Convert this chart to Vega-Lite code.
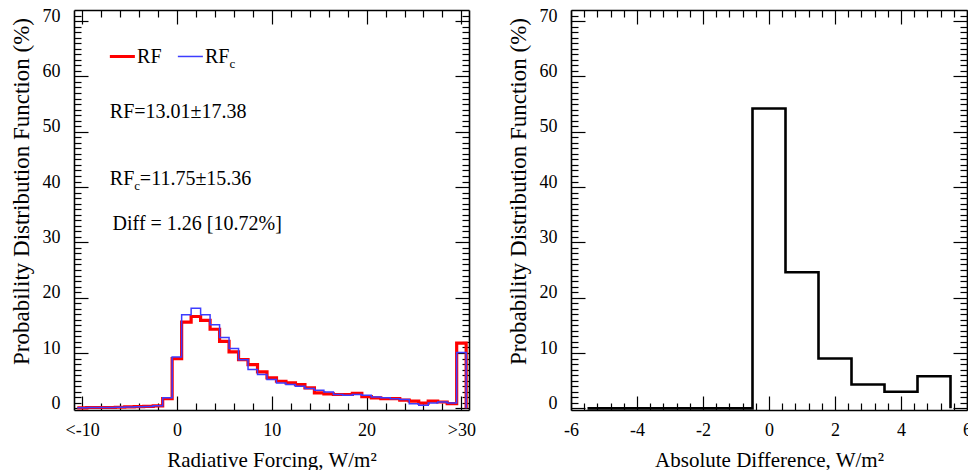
{
  "$schema": "https://vega.github.io/schema/vega-lite/v6.json",
  "background": "white",
  "padding": {"left": 10, "top": 7, "right": 0, "bottom": 0},
  "bounds": "flush",
  "spacing": 102,
  "config": {
    "view": {"stroke": null},
    "text": {"font": "Liberation Serif", "color": "black"},
    "axis": {
      "grid": false,
      "domainColor": "black",
      "domainWidth": 1.6,
      "tickColor": "black",
      "tickWidth": 1.2,
      "labelColor": "black",
      "titleColor": "black",
      "labelFont": "Liberation Serif",
      "titleFont": "Liberation Serif",
      "labelFontSize": 18,
      "titleFontSize": 21,
      "titleFontWeight": "normal",
      "labelFlush": false,
      "labelOverlap": false,
      "labels": false,
      "title": null
    }
  },
  "datasets": {
    "forcing": [
      {"edge": -10.5, "rf": 0.1, "rfc": 0.1},
      {"edge": -9.5, "rf": 0.15, "rfc": 0.15},
      {"edge": -8.5, "rf": 0.15, "rfc": 0.15},
      {"edge": -7.5, "rf": 0.15, "rfc": 0.15},
      {"edge": -6.5, "rf": 0.2, "rfc": 0.2},
      {"edge": -5.5, "rf": 0.25, "rfc": 0.25},
      {"edge": -4.5, "rf": 0.3, "rfc": 0.3},
      {"edge": -3.5, "rf": 0.35, "rfc": 0.35},
      {"edge": -2.5, "rf": 0.45, "rfc": 0.45},
      {"edge": -1.5, "rf": 1.75, "rfc": 1.9},
      {"edge": -0.5, "rf": 9.0, "rfc": 9.3},
      {"edge": 0.5, "rf": 15.6, "rfc": 16.9},
      {"edge": 1.5, "rf": 16.6, "rfc": 18.1},
      {"edge": 2.5, "rf": 15.9, "rfc": 16.9},
      {"edge": 3.5, "rf": 14.3, "rfc": 15.1},
      {"edge": 4.5, "rf": 12.1, "rfc": 12.8},
      {"edge": 5.5, "rf": 10.2, "rfc": 10.8},
      {"edge": 6.5, "rf": 8.8, "rfc": 8.8},
      {"edge": 7.5, "rf": 7.9, "rfc": 7.0},
      {"edge": 8.5, "rf": 6.6, "rfc": 6.1},
      {"edge": 9.5, "rf": 5.5, "rfc": 5.2},
      {"edge": 10.5, "rf": 4.9, "rfc": 4.6},
      {"edge": 11.5, "rf": 4.6, "rfc": 4.3},
      {"edge": 12.5, "rf": 4.3, "rfc": 4.0},
      {"edge": 13.5, "rf": 3.7, "rfc": 3.6},
      {"edge": 14.5, "rf": 2.8, "rfc": 3.25},
      {"edge": 15.5, "rf": 2.6, "rfc": 2.95},
      {"edge": 16.5, "rf": 2.5, "rfc": 2.5},
      {"edge": 17.5, "rf": 2.5, "rfc": 2.35},
      {"edge": 18.5, "rf": 2.7, "rfc": 2.5},
      {"edge": 19.5, "rf": 2.1, "rfc": 2.35},
      {"edge": 20.5, "rf": 1.9, "rfc": 2.05},
      {"edge": 21.5, "rf": 1.75, "rfc": 1.9},
      {"edge": 22.5, "rf": 1.75, "rfc": 1.75},
      {"edge": 23.5, "rf": 1.5, "rfc": 1.6},
      {"edge": 24.5, "rf": 1.3, "rfc": 0.85},
      {"edge": 25.5, "rf": 0.95, "rfc": 0.55},
      {"edge": 26.5, "rf": 1.3, "rfc": 0.95},
      {"edge": 27.5, "rf": 1.15, "rfc": 1.15},
      {"edge": 28.5, "rf": 0.85, "rfc": 0.95},
      {"edge": 29.5, "rf": 11.8, "rfc": 10.1},
      {"edge": 30.5, "rf": 0, "rfc": 0}
    ],
    "difference": [
      {"edge": -5.5, "pdf": 0},
      {"edge": -4.5, "pdf": 0},
      {"edge": -3.5, "pdf": 0},
      {"edge": -2.5, "pdf": 0},
      {"edge": -1.5, "pdf": 0},
      {"edge": -0.5, "pdf": 54.2},
      {"edge": 0.5, "pdf": 24.6},
      {"edge": 1.5, "pdf": 9.0},
      {"edge": 2.5, "pdf": 4.3},
      {"edge": 3.5, "pdf": 3.0},
      {"edge": 4.5, "pdf": 5.8},
      {"edge": 5.5, "pdf": 0}
    ],
    "single": [{}]
  },
  "hconcat": [
    {
      "width": 395,
      "height": 400,
      "resolve": {"axis": {"x": "independent", "y": "independent"}},
      "layer": [
        {
          "data": {"name": "forcing"},
          "mark": {"type": "line", "interpolate": "step-after", "color": "#ff0000", "strokeWidth": 3.2},
          "encoding": {
            "x": {
              "field": "edge", "type": "quantitative",
              "scale": {"domain": [-10.85, 30.8], "nice": false, "zero": false},
              "axis": {
                "orient": "bottom", "values": [-10, 0, 10, 20, 30], "ticks": false, "labels": true,
                "labelExpr": "datum.value == -10 ? '<-10' : datum.value == 30 ? '>30' : toString(datum.value)",
                "labelPadding": 11, "title": "Radiative Forcing, W/m²", "titlePadding": 10
              }
            },
            "y": {
              "field": "rf", "type": "quantitative",
              "scale": {"domain": [-0.3, 72], "nice": false, "zero": false},
              "axis": {
                "orient": "left", "values": [0, 10, 20, 30, 40, 50, 60, 70], "ticks": false, "labels": true,
                "labelExpr": "toString(datum.value)",
                "labelPadding": 14, "labelOffset": -5,
                "title": "Probability Distribution Function (%)", "titleFontSize": 23,
                "titlePadding": 9, "titleY": 181
              }
            }
          }
        },
        {
          "data": {"name": "forcing"},
          "mark": {"type": "line", "interpolate": "step-after", "color": "#3c3cff", "strokeWidth": 1.5},
          "encoding": {
            "x": {
              "field": "edge", "type": "quantitative",
              "scale": {"domain": [-10.85, 30.8], "nice": false, "zero": false},
              "axis": {"orient": "bottom", "values": [-10, 0, 10, 20, 30], "domain": false, "tickSize": -14}
            },
            "y": {
              "field": "rfc", "type": "quantitative",
              "scale": {"domain": [-0.3, 72], "nice": false, "zero": false},
              "axis": {"orient": "left", "values": [0, 10, 20, 30, 40, 50, 60, 70], "domain": false, "tickSize": -14}
            }
          }
        },
        {
          "data": {"name": "forcing"},
          "mark": {"type": "point", "opacity": 0},
          "encoding": {
            "x": {
              "field": "edge", "type": "quantitative",
              "scale": {"domain": [-10.85, 30.8], "nice": false, "zero": false},
              "axis": {"orient": "bottom", "values": [-8, -6, -4, -2, 2, 4, 6, 8, 12, 14, 16, 18, 22, 24, 26, 28], "domain": false, "tickSize": -7}
            },
            "y": {
              "field": "rf", "type": "quantitative",
              "scale": {"domain": [-0.3, 72], "nice": false, "zero": false},
              "axis": {"orient": "left", "values": [1, 2, 3, 4, 5, 6, 7, 8, 9, 11, 12, 13, 14, 15, 16, 17, 18, 19, 21, 22, 23, 24, 25, 26, 27, 28, 29, 31, 32, 33, 34, 35, 36, 37, 38, 39, 41, 42, 43, 44, 45, 46, 47, 48, 49, 51, 52, 53, 54, 55, 56, 57, 58, 59, 61, 62, 63, 64, 65, 66, 67, 68, 69, 71], "domain": false, "tickSize": -7}
            }
          }
        },
        {
          "data": {"name": "forcing"},
          "mark": {"type": "point", "opacity": 0},
          "encoding": {
            "x": {
              "field": "edge", "type": "quantitative",
              "scale": {"domain": [-10.85, 30.8], "nice": false, "zero": false},
              "axis": {"orient": "top", "values": [-10, 0, 10, 20, 30], "tickSize": -14}
            },
            "y": {
              "field": "rf", "type": "quantitative",
              "scale": {"domain": [-0.3, 72], "nice": false, "zero": false},
              "axis": {"orient": "right", "values": [0, 10, 20, 30, 40, 50, 60, 70], "tickSize": -14}
            }
          }
        },
        {
          "data": {"name": "forcing"},
          "mark": {"type": "point", "opacity": 0},
          "encoding": {
            "x": {
              "field": "edge", "type": "quantitative",
              "scale": {"domain": [-10.85, 30.8], "nice": false, "zero": false},
              "axis": {"orient": "top", "values": [-8, -6, -4, -2, 2, 4, 6, 8, 12, 14, 16, 18, 22, 24, 26, 28], "domain": false, "tickSize": -7}
            },
            "y": {
              "field": "rf", "type": "quantitative",
              "scale": {"domain": [-0.3, 72], "nice": false, "zero": false},
              "axis": {"orient": "right", "values": [1, 2, 3, 4, 5, 6, 7, 8, 9, 11, 12, 13, 14, 15, 16, 17, 18, 19, 21, 22, 23, 24, 25, 26, 27, 28, 29, 31, 32, 33, 34, 35, 36, 37, 38, 39, 41, 42, 43, 44, 45, 46, 47, 48, 49, 51, 52, 53, 54, 55, 56, 57, 58, 59, 61, 62, 63, 64, 65, 66, 67, 68, 69, 71], "domain": false, "tickSize": -7}
            }
          }
        },
        {
          "data": {"name": "single"},
          "mark": {"type": "rule", "color": "#ff0000", "strokeWidth": 3},
          "encoding": {
            "x": {"datum": -7.07, "type": "quantitative", "axis": null},
            "x2": {"datum": -4.43},
            "y": {"datum": 63.6, "type": "quantitative", "axis": null}
          }
        },
        {
          "data": {"name": "single"},
          "mark": {"type": "rule", "color": "#3c3cff", "strokeWidth": 1.5},
          "encoding": {
            "x": {"datum": 0.1, "type": "quantitative", "axis": null},
            "x2": {"datum": 2.74},
            "y": {"datum": 63.6, "type": "quantitative", "axis": null}
          }
        },
        {
          "data": {"name": "single"},
          "mark": {"type": "text", "text": "RF", "align": "left", "baseline": "alphabetic", "fontSize": 20},
          "encoding": {
            "x": {"datum": -4.2, "type": "quantitative", "axis": null},
            "y": {"datum": 62.4, "type": "quantitative", "axis": null}
          }
        },
        {
          "data": {"name": "single"},
          "mark": {"type": "text", "text": "RF", "align": "left", "baseline": "alphabetic", "fontSize": 20},
          "encoding": {
            "x": {"datum": 2.95, "type": "quantitative", "axis": null},
            "y": {"datum": 62.4, "type": "quantitative", "axis": null}
          }
        },
        {
          "data": {"name": "single"},
          "mark": {"type": "text", "text": "c", "align": "left", "baseline": "alphabetic", "fontSize": 13, "dx": 24.5, "dy": 5},
          "encoding": {
            "x": {"datum": 2.95, "type": "quantitative", "axis": null},
            "y": {"datum": 62.4, "type": "quantitative", "axis": null}
          }
        },
        {
          "data": {"name": "single"},
          "mark": {"type": "text", "text": "RF=13.01±17.38", "align": "left", "baseline": "alphabetic", "fontSize": 20},
          "encoding": {
            "x": {"datum": -7.07, "type": "quantitative", "axis": null},
            "y": {"datum": 52.5, "type": "quantitative", "axis": null}
          }
        },
        {
          "data": {"name": "single"},
          "mark": {"type": "text", "text": "RF", "align": "left", "baseline": "alphabetic", "fontSize": 20},
          "encoding": {
            "x": {"datum": -7.07, "type": "quantitative", "axis": null},
            "y": {"datum": 40.4, "type": "quantitative", "axis": null}
          }
        },
        {
          "data": {"name": "single"},
          "mark": {"type": "text", "text": "c", "align": "left", "baseline": "alphabetic", "fontSize": 13, "dx": 24.5, "dy": 5},
          "encoding": {
            "x": {"datum": -7.07, "type": "quantitative", "axis": null},
            "y": {"datum": 40.4, "type": "quantitative", "axis": null}
          }
        },
        {
          "data": {"name": "single"},
          "mark": {"type": "text", "text": "=11.75±15.36", "align": "left", "baseline": "alphabetic", "fontSize": 20, "dx": 30},
          "encoding": {
            "x": {"datum": -7.07, "type": "quantitative", "axis": null},
            "y": {"datum": 40.4, "type": "quantitative", "axis": null}
          }
        },
        {
          "data": {"name": "single"},
          "mark": {"type": "text", "text": "Diff = 1.26 [10.72%]", "align": "left", "baseline": "alphabetic", "fontSize": 20},
          "encoding": {
            "x": {"datum": -6.78, "type": "quantitative", "axis": null},
            "y": {"datum": 32.2, "type": "quantitative", "axis": null}
          }
        }
      ]
    },
    {
      "width": 396,
      "height": 400,
      "data": {"name": "difference"},
      "resolve": {"axis": {"x": "independent", "y": "independent"}},
      "layer": [
        {
          "mark": {"type": "line", "interpolate": "step-after", "color": "black", "strokeWidth": 2.6},
          "encoding": {
            "x": {
              "field": "edge", "type": "quantitative",
              "scale": {"domain": [-6, 6], "nice": false, "zero": false},
              "axis": {
                "orient": "bottom", "values": [-6, -4, -2, 0, 2, 4, 6], "ticks": false, "labels": true,
                "labelExpr": "toString(datum.value)",
                "labelPadding": 11, "title": "Absolute Difference, W/m²", "titlePadding": 10
              }
            },
            "y": {
              "field": "pdf", "type": "quantitative",
              "scale": {"domain": [-0.3, 72], "nice": false, "zero": false},
              "axis": {
                "orient": "left", "values": [0, 10, 20, 30, 40, 50, 60, 70], "ticks": false, "labels": true,
                "labelExpr": "toString(datum.value)",
                "labelPadding": 14, "labelOffset": -5,
                "title": "Probability Distribution Function (%)", "titleFontSize": 23,
                "titlePadding": 9, "titleY": 181
              }
            }
          }
        },
        {
          "mark": {"type": "point", "opacity": 0},
          "encoding": {
            "x": {
              "field": "edge", "type": "quantitative",
              "scale": {"domain": [-6, 6], "nice": false, "zero": false},
              "axis": {"orient": "bottom", "values": [-6, -4, -2, 0, 2, 4, 6], "domain": false, "tickSize": -14}
            },
            "y": {
              "field": "pdf", "type": "quantitative",
              "scale": {"domain": [-0.3, 72], "nice": false, "zero": false},
              "axis": {"orient": "left", "values": [0, 10, 20, 30, 40, 50, 60, 70], "domain": false, "tickSize": -14}
            }
          }
        },
        {
          "mark": {"type": "point", "opacity": 0},
          "encoding": {
            "x": {
              "field": "edge", "type": "quantitative",
              "scale": {"domain": [-6, 6], "nice": false, "zero": false},
              "axis": {"orient": "bottom", "values": [-5.6, -5.2, -4.8, -4.4, -3.6, -3.2, -2.8, -2.4, -1.6, -1.2, -0.8, -0.4, 0.4, 0.8, 1.2, 1.6, 2.4, 2.8, 3.2, 3.6, 4.4, 4.8, 5.2, 5.6], "domain": false, "tickSize": -7}
            },
            "y": {
              "field": "pdf", "type": "quantitative",
              "scale": {"domain": [-0.3, 72], "nice": false, "zero": false},
              "axis": {"orient": "left", "values": [1, 2, 3, 4, 5, 6, 7, 8, 9, 11, 12, 13, 14, 15, 16, 17, 18, 19, 21, 22, 23, 24, 25, 26, 27, 28, 29, 31, 32, 33, 34, 35, 36, 37, 38, 39, 41, 42, 43, 44, 45, 46, 47, 48, 49, 51, 52, 53, 54, 55, 56, 57, 58, 59, 61, 62, 63, 64, 65, 66, 67, 68, 69, 71], "domain": false, "tickSize": -7}
            }
          }
        },
        {
          "mark": {"type": "point", "opacity": 0},
          "encoding": {
            "x": {
              "field": "edge", "type": "quantitative",
              "scale": {"domain": [-6, 6], "nice": false, "zero": false},
              "axis": {"orient": "top", "values": [-6, -4, -2, 0, 2, 4, 6], "tickSize": -14}
            },
            "y": {
              "field": "pdf", "type": "quantitative",
              "scale": {"domain": [-0.3, 72], "nice": false, "zero": false},
              "axis": {"orient": "right", "values": [0, 10, 20, 30, 40, 50, 60, 70], "tickSize": -14}
            }
          }
        },
        {
          "mark": {"type": "point", "opacity": 0},
          "encoding": {
            "x": {
              "field": "edge", "type": "quantitative",
              "scale": {"domain": [-6, 6], "nice": false, "zero": false},
              "axis": {"orient": "top", "values": [-5.6, -5.2, -4.8, -4.4, -3.6, -3.2, -2.8, -2.4, -1.6, -1.2, -0.8, -0.4, 0.4, 0.8, 1.2, 1.6, 2.4, 2.8, 3.2, 3.6, 4.4, 4.8, 5.2, 5.6], "domain": false, "tickSize": -7}
            },
            "y": {
              "field": "pdf", "type": "quantitative",
              "scale": {"domain": [-0.3, 72], "nice": false, "zero": false},
              "axis": {"orient": "right", "values": [1, 2, 3, 4, 5, 6, 7, 8, 9, 11, 12, 13, 14, 15, 16, 17, 18, 19, 21, 22, 23, 24, 25, 26, 27, 28, 29, 31, 32, 33, 34, 35, 36, 37, 38, 39, 41, 42, 43, 44, 45, 46, 47, 48, 49, 51, 52, 53, 54, 55, 56, 57, 58, 59, 61, 62, 63, 64, 65, 66, 67, 68, 69, 71], "domain": false, "tickSize": -7}
            }
          }
        }
      ]
    }
  ]
}
